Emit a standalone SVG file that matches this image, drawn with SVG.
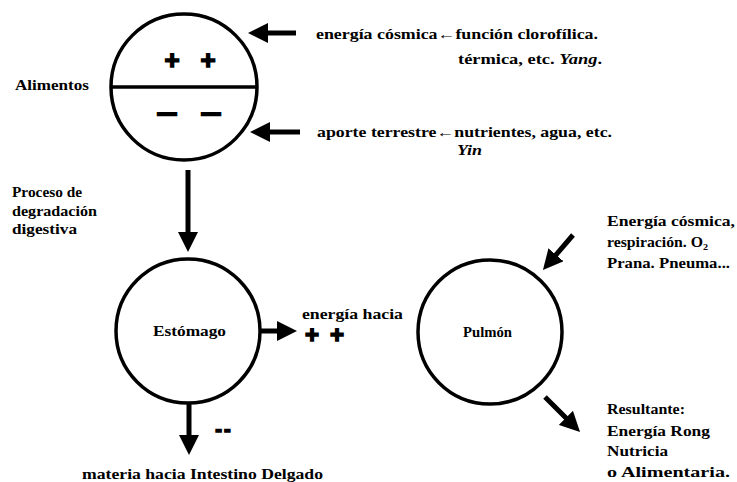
<svg xmlns="http://www.w3.org/2000/svg" width="737" height="482" viewBox="0 0 737 482">
<defs>
<style>
.c{fill:none;stroke:#000;stroke-width:3.5}
.a{stroke:#000;stroke-width:5;fill:none;marker-end:url(#h)}
.t{font-family:"Liberation Serif","DejaVu Serif",serif;font-weight:bold;font-size:14px;fill:#000}
.s{font-family:"Liberation Sans","DejaVu Sans",sans-serif;font-weight:bold;fill:#000;stroke:#000;text-anchor:middle}
</style>
<marker id="h" markerUnits="userSpaceOnUse" viewBox="0 0 20 20" markerWidth="20" markerHeight="20" refX="2" refY="10" orient="auto">
<path d="M0,0 L20,10 L0,20 z" fill="#000"/>
</marker>
</defs>
<rect width="737" height="482" fill="#fff"/>
<g id="connectors">
<line class="a" x1="296" y1="33" x2="266" y2="33"/>
<line class="a" x1="300" y1="132" x2="268" y2="132"/>
<line class="a" x1="188" y1="170" x2="188" y2="234"/>
<line class="a" x1="260" y1="331" x2="279" y2="331"/>
<line class="a" x1="189" y1="403" x2="189" y2="437"/>
<line class="a" x1="573" y1="235" x2="554.7" y2="256.3"/>
<line class="a" x1="545" y1="397" x2="567.3" y2="419.3"/>
</g>
<g id="alimentos">
<circle class="c" cx="184" cy="87" r="73"/>
<line x1="111" y1="87" x2="257" y2="87" stroke="#000" stroke-width="3.5"/>
<text class="s" x="172" y="69" font-size="26" stroke-width="1.5">+</text>
<text class="s" x="208" y="69" font-size="26" stroke-width="1.5">+</text>
<text class="s" x="167" y="119" font-size="18" stroke-width="2.5">—</text>
<text class="s" x="211" y="119" font-size="18" stroke-width="2.5">—</text>
<text class="t" x="15" y="90" textLength="74" lengthAdjust="spacingAndGlyphs">Alimentos</text>
</g>
<g id="energia-cosmica">
<text class="t" x="316" y="39" textLength="282" lengthAdjust="spacingAndGlyphs">energía  cósmica←función clorofílica.</text>
<text class="t" x="458" y="64" textLength="144" lengthAdjust="spacingAndGlyphs">térmica, etc.  <tspan font-style="italic">Yang</tspan>.</text>
</g>
<g id="aporte-terrestre">
<text class="t" x="317" y="137" textLength="295" lengthAdjust="spacingAndGlyphs">aporte  terrestre←nutrientes, agua, etc.</text>
<text class="t" x="457" y="155" textLength="25" lengthAdjust="spacingAndGlyphs" font-style="italic">Yin</text>
</g>
<g id="proceso">
<text class="t" x="12" y="197" textLength="70" lengthAdjust="spacingAndGlyphs">Proceso de</text>
<text class="t" x="12" y="216" textLength="85" lengthAdjust="spacingAndGlyphs">degradación</text>
<text class="t" x="12" y="234" textLength="65" lengthAdjust="spacingAndGlyphs">digestiva</text>
</g>
<g id="estomago">
<circle class="c" cx="188" cy="331" r="72"/>
<text class="t" x="153" y="336" textLength="73" lengthAdjust="spacingAndGlyphs">Estómago</text>
</g>
<g id="energia-hacia">
<text class="t" x="302" y="319" textLength="101" lengthAdjust="spacingAndGlyphs">energía hacia</text>
<text class="s" x="312" y="343" font-size="24" stroke-width="1.5">+</text>
<text class="s" x="337" y="343" font-size="24" stroke-width="1.5">+</text>
</g>
<g id="materia">
<text class="s" x="224" y="436" font-size="20" stroke-width="1.5" letter-spacing="2">--</text>
<text class="t" x="82" y="479" textLength="241" lengthAdjust="spacingAndGlyphs">materia hacia Intestino Delgado</text>
</g>
<g id="pulmon">
<circle class="c" cx="490" cy="332" r="72"/>
<text class="t" x="463" y="337" textLength="49" lengthAdjust="spacingAndGlyphs">Pulmón</text>
</g>
<g id="energia-respiracion">
<text class="t" x="607" y="226" textLength="128" lengthAdjust="spacingAndGlyphs">Energía cósmica,</text>
<text class="t" x="607" y="247" textLength="101" lengthAdjust="spacingAndGlyphs">respiración. O<tspan font-size="9" dy="3">2</tspan></text>
<text class="t" x="607" y="268" textLength="123" lengthAdjust="spacingAndGlyphs">Prana. Pneuma...</text>
</g>
<g id="resultante">
<text class="t" x="607" y="414" textLength="78" lengthAdjust="spacingAndGlyphs">Resultante:</text>
<text class="t" x="607" y="436" textLength="103" lengthAdjust="spacingAndGlyphs">Energía Rong</text>
<text class="t" x="607" y="456" textLength="61" lengthAdjust="spacingAndGlyphs">Nutricia</text>
<text class="t" x="607" y="477" textLength="123" lengthAdjust="spacingAndGlyphs">o Alimentaria.</text>
</g>
</svg>
